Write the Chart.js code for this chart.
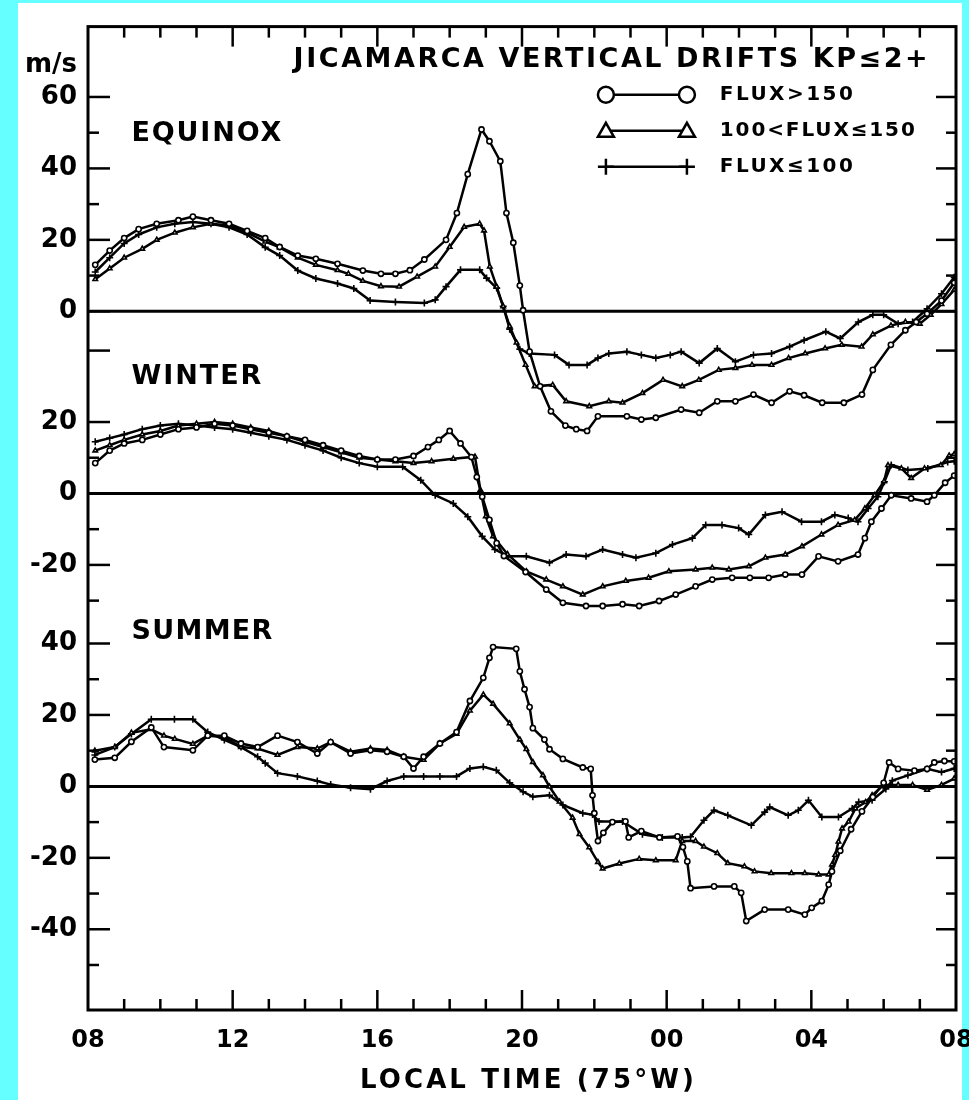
<!DOCTYPE html>
<html>
<head>
<meta charset="utf-8">
<title>Jicamarca vertical drifts</title>
<script src="https://cdn.jsdelivr.net/npm/chart.js@4.4.1/dist/chart.umd.min.js"></script>
<style>
    html, body { margin: 0; padding: 0; background: #66ffff; }
    #sheet { position: absolute; left: 18px; top: 3px; width: 944px; height: 1097px; background: #fff; }
    #wrap { position: absolute; left: 0; top: 0; width: 969px; height: 1100px; }
</style>
</head>
<body>
<div id="sheet"></div>
<div id="wrap"><canvas id="drifts"></canvas></div>
<script>
// Сдвиг нуля каждой панели на общей оси Y (м/с)
const panelOffsets = [0, -51, -133];
const panelNames = ['EQUINOX', 'WINTER', 'SUMMER'];
const seriesNames = ['FLUX>150', '100<FLUX≤150', 'FLUX≤100'];
const markerStyles = ['circle', 'triangle', 'cross'];

// Подписи осей
const xTickVals = [8, 12, 16, 20, 24, 28, 32];
const xTickLabels = ['08', '12', '16', '20', '00', '04', '08'];
const yTickVals = [69, 60, 40, 20, 0, -31, -51, -71, -93, -113, -133, -153, -173];
const yTickLabels = ['m/s', '60', '40', '20', '0', '20', '0', '-20', '40', '20', '0', '-20', '-40'];
const yMajorVals = [60, 40, 20, 0, -11, -31, -51, -71, -93, -113, -133, -153, -173];
const yMinorVals = [50, 30, 10, -41, -61, -81, -103, -123, -143, -163, -183];

// Равноденствие
const eqHighHours = [8.2, 8.6, 9.0, 9.4, 9.9, 10.5, 10.9, 11.4, 11.9, 12.4, 12.9, 13.3, 13.8, 14.3, 14.9, 15.6, 16.1, 16.5, 16.9, 17.3, 17.9, 18.2, 18.5, 18.88, 19.1, 19.4, 19.57, 19.76, 19.94, 20.03, 20.21, 20.5, 20.8, 21.2, 21.5, 21.8, 22.1, 22.9, 23.3, 23.7, 24.4, 24.9, 25.4, 25.9, 26.4, 26.9, 27.4, 27.8, 28.3, 28.9, 29.4, 29.7, 30.2, 30.6, 30.9, 31.2, 31.6, 31.95];
const eqHighDrift = [13, 17, 20.5, 23, 24.5, 25.5, 26.5, 25.5, 24.5, 22.5, 20.5, 18, 15.6, 14.7, 13.3, 11.4, 10.5, 10.5, 11.5, 14.5, 20, 27.5, 38.4, 50.9, 47.6, 42, 27.5, 19.2, 7.2, 0.3, -11.3, -21, -28, -32, -33, -33.5, -29.4, -29.4, -30.3, -29.8, -27.5, -28.4, -25.2, -25.2, -23.3, -25.6, -22.4, -23.5, -25.6, -25.6, -23.3, -16.4, -9.4, -5.3, -3, -0.7, 3, 8];
const eqMidHours = [8.2, 8.6, 9.0, 9.5, 9.9, 10.4, 10.9, 11.4, 11.9, 12.4, 12.9, 13.3, 13.8, 14.3, 14.9, 15.2, 15.6, 16.1, 16.6, 17.1, 17.6, 18.0, 18.4, 18.83, 18.95, 19.11, 19.3, 19.48, 19.66, 19.85, 20.1, 20.35, 20.85, 21.22, 21.86, 22.4, 22.78, 23.33, 23.9, 24.43, 24.89, 25.44, 25.9, 26.36, 26.9, 27.37, 27.83, 28.38, 28.84, 29.39, 29.7, 30.2, 30.6, 31.0, 31.3, 31.6, 31.95];
const eqMidDrift = [9, 12, 15, 17.5, 20, 22, 23.5, 24.5, 24, 22, 19.5, 17.9, 15, 13, 11.5, 10.5, 8.5, 7, 6.9, 9.7, 12.5, 18, 23.6, 24.5, 22.6, 12.5, 6.9, 1.4, -4.2, -8.8, -15, -21, -20.6, -25.2, -26.6, -25.2, -25.6, -22.9, -19.2, -21, -19.2, -16.4, -15.9, -15, -15, -13.1, -11.8, -10.4, -9.4, -9.9, -6.5, -4, -3, -3.5, -1, 2, 6];
const eqLowHours = [8.2, 8.6, 9.0, 9.4, 9.9, 10.4, 10.9, 11.4, 11.9, 12.4, 12.9, 13.3, 13.8, 14.3, 14.9, 15.35, 15.8, 16.5, 17.3, 17.6, 17.9, 18.3, 18.83, 19.02, 19.3, 19.48, 19.66, 19.94, 20.2, 20.9, 21.3, 21.8, 22.1, 22.4, 22.9, 23.3, 23.7, 24.1, 24.4, 24.9, 25.4, 25.9, 26.4, 26.9, 27.4, 27.8, 28.4, 28.8, 29.3, 29.7, 30.0, 30.4, 30.8, 31.2, 31.6, 31.95];
const eqLowDrift = [11, 15, 19, 21.5, 23.5, 24.5, 25, 24.5, 23.5, 21.5, 17.9, 15.6, 11.4, 9.2, 7.8, 6.4, 3, 2.6, 2.3, 3.2, 6.9, 11.6, 11.6, 9.3, 6.5, 1.4, -5, -10.6, -11.8, -12.2, -15, -15, -13.1, -11.8, -11.3, -12.2, -13.1, -12.2, -11.3, -14.5, -10.4, -14.1, -12.2, -11.8, -9.9, -8.1, -5.7, -7.6, -3, -1, -1, -3.5, -3, 0.7, 4.9, 9.5];

// Зима
const wiHighHours = [8.2, 8.6, 9.0, 9.5, 10.0, 10.5, 11.0, 11.5, 12.0, 12.5, 13.0, 13.5, 14.0, 14.5, 15.0, 15.5, 16.0, 16.5, 17.0, 17.4, 17.7, 18.0, 18.3, 18.6, 18.75, 18.9, 19.1, 19.3, 19.5, 20.1, 20.67, 21.13, 21.77, 22.23, 22.78, 23.24, 23.79, 24.25, 24.8, 25.26, 25.81, 26.3, 26.82, 27.28, 27.74, 28.2, 28.74, 29.29, 29.48, 29.66, 29.94, 30.21, 30.76, 31.2, 31.4, 31.7, 31.95];
const wiHighDrift = [8.5, 12, 14, 15, 16.5, 18, 18.5, 19.5, 19, 18, 17, 16, 15, 13.5, 12, 10.5, 9.5, 9.5, 10.5, 13, 15, 17.5, 14, 10.2, 4.6, -0.9, -7.4, -13.9, -17.5, -22, -26.9, -30.6, -31.5, -31.5, -31, -31.5, -30.1, -28.3, -26, -24.1, -23.6, -23.6, -23.6, -22.7, -22.7, -17.6, -19, -17.1, -12.5, -7.9, -4.2, -0.5, -1.4, -2.3, -0.5, 3, 5];
const wiMidHours = [8.2, 8.6, 9.0, 9.5, 10.0, 10.5, 11.0, 11.5, 12.0, 12.5, 13.0, 13.5, 14.0, 14.5, 15.0, 15.5, 16.0, 16.5, 17.0, 17.5, 18.1, 18.7, 18.85, 19.0, 19.2, 19.6, 20.12, 20.67, 21.13, 21.68, 22.23, 22.87, 23.5, 24.06, 24.8, 25.26, 25.72, 26.27, 26.73, 27.28, 27.74, 28.28, 28.74, 29.2, 29.48, 29.75, 30.01, 30.12, 30.49, 30.76, 31.13, 31.58, 31.81, 31.95];
const wiMidDrift = [12, 13.5, 15, 16.5, 17.5, 19, 19.5, 20, 19.5, 18.5, 17.5, 16, 14.5, 13, 11.5, 10, 9.5, 9, 8.5, 9, 9.7, 10.3, 1, -6.4, -12, -17, -21.8, -24.1, -26, -28.3, -26, -24.5, -23.6, -21.8, -21.3, -20.8, -21.3, -20.4, -18, -17.1, -14.8, -11.5, -8.8, -7.4, -4.2, -0.5, 3.4, 7.9, 7, 4.3, 7, 7.9, 10.6, 11];
const wiLowHours = [8.2, 8.6, 9.0, 9.5, 10.0, 10.5, 11.0, 11.5, 12.0, 12.5, 13.0, 13.5, 14.0, 14.5, 15.0, 15.5, 16.0, 16.7, 17.2, 17.6, 18.1, 18.5, 18.9, 19.25, 19.62, 20.12, 20.76, 21.22, 21.77, 22.23, 22.78, 23.15, 23.7, 24.16, 24.71, 25.08, 25.53, 25.99, 26.27, 26.73, 27.19, 27.73, 28.28, 28.65, 29.02, 29.29, 29.57, 29.84, 30.02, 30.21, 30.67, 31.22, 31.77, 31.95];
const wiLowDrift = [14.5, 15.5, 16.5, 18, 19, 19.5, 19, 18.5, 18, 17, 16, 15, 13.5, 12, 10, 8.5, 7.5, 7.5, 3.7, -0.5, -2.8, -6.5, -12, -15.7, -17.6, -17.6, -19.4, -17.1, -17.6, -15.7, -17.1, -18, -16.7, -14.3, -12.5, -8.8, -8.8, -9.7, -11.5, -6, -5.1, -7.9, -7.9, -6, -6.9, -7.9, -4.2, -0.9, 3.3, 8, 6.6, 7, 8.8, 9];

// Лето
const suHighHours = [8.19, 8.74, 9.2, 9.75, 10.1, 10.9, 11.31, 11.77, 12.23, 12.69, 13.24, 13.79, 14.34, 14.71, 15.26, 15.81, 16.27, 16.73, 17.0, 17.28, 17.73, 18.19, 18.56, 18.93, 19.1, 19.2, 19.84, 19.94, 20.07, 20.21, 20.3, 20.62, 20.76, 21.13, 21.68, 21.9, 21.95, 22.0, 22.1, 22.25, 22.5, 22.86, 22.95, 23.3, 23.8, 24.3, 24.45, 24.57, 24.66, 25.31, 25.87, 26.06, 26.2, 26.71, 27.36, 27.82, 28.01, 28.29, 28.48, 28.57, 28.8, 29.1, 29.4, 29.7, 30.0, 30.15, 30.4, 30.85, 31.2, 31.4, 31.68, 31.95];
const suHighDrift = [7.5, 8, 12.5, 16.5, 11, 10.1, 14.2, 14.2, 12, 11, 14.2, 12.4, 9.2, 12.4, 9.2, 10.1, 9.7, 8.3, 5, 8.3, 12, 15.2, 23.9, 30.4, 36, 39, 38.5, 32.2, 27.2, 22.2, 16.3, 13.1, 10.4, 7.7, 5.3, 4.9, -2.5, -7.5, -15.3, -13, -10, -9.8, -14.3, -12.5, -14.3, -14, -17, -21, -28.5, -28, -28, -29.8, -37.7, -34.5, -34.5, -35.9, -34, -32.1, -27.5, -23.8, -18, -12, -7, -3, 1, 6.7, 4.9, 4.4, 4.9, 6.7, 7.1, 7];
const suMidHours = [8.19, 8.74, 9.2, 9.75, 10.1, 10.4, 10.9, 11.31, 11.77, 12.23, 12.69, 13.24, 13.79, 14.34, 14.71, 15.26, 15.81, 16.27, 16.73, 17.28, 17.73, 18.19, 18.56, 18.93, 19.2, 19.66, 19.94, 20.12, 20.3, 20.58, 20.76, 21.04, 21.4, 21.59, 21.86, 22.1, 22.23, 22.69, 23.24, 23.7, 24.25, 24.43, 24.8, 25.03, 25.4, 25.69, 26.15, 26.43, 26.89, 27.45, 27.82, 28.2, 28.48, 28.57, 28.66, 28.75, 28.85, 29.03, 29.22, 29.5, 29.68, 30.0, 30.4, 30.8, 31.2, 31.6, 31.95];
const suMidDrift = [10, 11, 15, 16, 14.2, 13.3, 11.9, 14.2, 13.8, 11, 10.6, 8.8, 11, 10.6, 12.4, 9.7, 10.6, 10.2, 8.3, 7.4, 12, 14.7, 21.2, 25.7, 23.1, 17.6, 13.1, 10.4, 6.8, 3.1, -0.1, -4.3, -8.8, -13.4, -17.1, -21.2, -23, -21.6, -20.3, -20.7, -20.7, -15.3, -15.3, -16.9, -18.7, -21.5, -22.4, -23.8, -24.3, -24.3, -24.3, -24.7, -24.7, -21.9, -19.2, -15.5, -11.8, -9.9, -6.2, -4.4, -2.5, 0.4, 0.4, 0.4, -1, 0.4, 2.2];
const suLowHours = [8.19, 8.74, 9.2, 9.75, 10.39, 10.9, 11.31, 11.77, 12.23, 12.69, 12.9, 13.24, 13.79, 14.34, 14.71, 15.26, 15.81, 16.27, 16.73, 17.28, 17.73, 18.19, 18.56, 18.93, 19.29, 19.66, 20.03, 20.3, 20.76, 21.13, 21.68, 21.95, 22.13, 22.78, 23.33, 23.88, 24.43, 24.66, 25.03, 25.31, 25.69, 26.34, 26.71, 26.85, 27.36, 27.64, 27.92, 28.29, 28.75, 29.13, 29.31, 29.68, 30.06, 30.24, 30.67, 31.2, 31.6, 31.95];
const suLowDrift = [8.8, 11, 14.7, 18.8, 18.8, 18.8, 15.2, 13, 11, 8.3, 6.5, 3.7, 2.8, 1.5, 0.5, -0.4, -0.8, 1.5, 2.8, 2.8, 2.8, 2.8, 5, 5.5, 4.5, 1, -1.5, -2.9, -2.5, -5.2, -7.5, -7.9, -9.8, -9.8, -13.4, -14.3, -14.3, -14.1, -9.5, -6.7, -8.1, -10.9, -7.2, -5.8, -8.1, -6.7, -3.9, -8.6, -8.6, -6.2, -4.4, -3.9, -0.7, 1.6, 3.1, 4.9, 4, 5];

const seasons = [
    [[eqHighHours, eqHighDrift], [eqMidHours, eqMidDrift], [eqLowHours, eqLowDrift]],
    [[wiHighHours, wiHighDrift], [wiMidHours, wiMidDrift], [wiLowHours, wiLowDrift]],
    [[suHighHours, suHighDrift], [suMidHours, suMidDrift], [suLowHours, suLowDrift]]
];

const FONT = '"DejaVu Sans", "Liberation Sans", sans-serif';

function buildDatasets() {
    const datasets = [];
    seasons.forEach((series, p) => {
        series.forEach(([hours, drift], s) => {
            datasets.push({
                label: panelNames[p] + ' ' + seriesNames[s],
                data: hours.map((h, i) => ({ x: h, y: drift[i] + panelOffsets[p] })),
                borderColor: '#000',
                borderWidth: 2.5,
                backgroundColor: '#fff',
                pointStyle: markerStyles[s],
                pointRadius: s === 2 ? 3.5 : 2.6,
                pointBorderWidth: 1.6,
                pointBorderColor: '#000',
                pointBackgroundColor: '#fff',
                tension: 0
            });
        });
    });
    return datasets;
}

// Текст с растянутым межбуквенным интервалом под нужную ширину
function drawSpaced(ctx, text, x, y, size, width, align) {
    ctx.font = `bold ${size}px ${FONT}`;
    ctx.letterSpacing = '0px';
    const w = ctx.measureText(text).width;
    const gap = Math.max(0, (width - w) / (text.length - 1));
    ctx.letterSpacing = gap + 'px';
    ctx.textAlign = 'left';
    ctx.textBaseline = 'middle';
    ctx.fillText(text, align === 'center' ? x - width / 2 : x, y);
    ctx.letterSpacing = '0px';
}

function drawMarker(ctx, style, x, y, r) {
    ctx.beginPath();
    if (style === 'circle') {
        ctx.arc(x, y, r, 0, Math.PI * 2);
        ctx.fill();
        ctx.stroke();
    } else if (style === 'triangle') {
        ctx.moveTo(x, y - r);
        ctx.lineTo(x + r, y + r * 0.75);
        ctx.lineTo(x - r, y + r * 0.75);
        ctx.closePath();
        ctx.fill();
        ctx.stroke();
    } else {
        ctx.moveTo(x, y - r);
        ctx.lineTo(x, y + r);
        ctx.moveTo(x - r, y);
        ctx.lineTo(x + r, y);
        ctx.stroke();
    }
}

const frameAndText = {
    id: 'frameAndText',
    beforeDatasetsDraw(chart) {
        // Нулевые линии трёх панелей
        const { ctx, chartArea: a, scales: { y } } = chart;
        ctx.save();
        ctx.strokeStyle = '#000';
        ctx.lineWidth = 3;
        panelOffsets.forEach(off => {
            const py = y.getPixelForValue(off);
            ctx.beginPath();
            ctx.moveTo(a.left, py);
            ctx.lineTo(a.right, py);
            ctx.stroke();
        });
        ctx.restore();
    },
    afterDraw(chart) {
        const { ctx, chartArea: a, scales: { x, y } } = chart;
        ctx.save();
        ctx.strokeStyle = '#000';
        ctx.fillStyle = '#000';

        // Рамка
        ctx.lineWidth = 3;
        ctx.strokeRect(a.left, a.top, a.right - a.left, a.bottom - a.top);

        // Засечки внутрь рамки
        const tick = (x1, y1, x2, y2) => {
            ctx.beginPath();
            ctx.moveTo(x1, y1);
            ctx.lineTo(x2, y2);
            ctx.stroke();
        };
        ctx.lineWidth = 2.5;
        yMajorVals.forEach(v => {
            const py = y.getPixelForValue(v);
            tick(a.left, py, a.left + 22, py);
            tick(a.right, py, a.right - 20, py);
        });
        yMinorVals.forEach(v => {
            const py = y.getPixelForValue(v);
            tick(a.left, py, a.left + 11, py);
            tick(a.right, py, a.right - 10, py);
        });
        for (let h = 9; h < 32; h++) {
            const px = x.getPixelForValue(h);
            const len = h % 4 === 0 ? 20 : 11;
            tick(px, a.bottom, px, a.bottom - len);
            tick(px, a.top, px, a.top + len);
        }

        // Заголовок
        drawSpaced(ctx, 'JICAMARCA VERTICAL DRIFTS KP≤2+', x.getPixelForValue(22.45), y.getPixelForValue(70.3), 27, 634, 'center');

        // Легенда
        const rowY = y.getPixelForValue(60.6);
        const leftX = x.getPixelForValue(22.32);
        const rightX = x.getPixelForValue(24.56);
        const textX = x.getPixelForValue(25.47);
        const textWidths = [133, 195, 133];
        seriesNames.forEach((name, i) => {
            const py = rowY + i * 36;
            ctx.fillStyle = '#fff';
            ctx.lineWidth = 2.5;
            tick(leftX, py, rightX, py);
            drawMarker(ctx, markerStyles[i], leftX, py, 8);
            drawMarker(ctx, markerStyles[i], rightX, py, 8);
            ctx.fillStyle = '#000';
            drawSpaced(ctx, name, textX, py, 20, textWidths[i], 'left');
        });

        // Названия сезонов
        const labelVals = [49.7, 32.5, 43.3];
        const labelWidths = [150, 130, 141];
        panelNames.forEach((name, p) => {
            drawSpaced(ctx, name, x.getPixelForValue(9.2), y.getPixelForValue(panelOffsets[p] + labelVals[p]), 27, labelWidths[p], 'left');
        });

        // Подпись оси X
        drawSpaced(ctx, 'LOCAL TIME (75°W)', (a.left + a.right) / 2 + 5, x.bottom - 19, 26, 334, 'center');
        ctx.restore();
    }
};

document.addEventListener('DOMContentLoaded', function() {
    const ctx = document.getElementById('drifts').getContext('2d');
    new Chart(ctx, {
        type: 'line',
        data: { datasets: buildDatasets() },
        options: {
            responsive: true,
            maintainAspectRatio: false,
            animation: false,
            layout: { padding: { top: 19, right: 13, left: 0, bottom: 0 } },
            plugins: {
                legend: { display: false },
                tooltip: { enabled: false }
            },
            scales: {
                x: {
                    type: 'linear',
                    min: 8,
                    max: 32,
                    grid: { display: false, drawTicks: false },
                    border: { display: false },
                    afterBuildTicks: scale => { scale.ticks = xTickVals.map(v => ({ value: v })); },
                    afterFit: scale => {
                        scale.height = 90;
                        scale.paddingLeft = 0;
                        scale.paddingRight = 0;
                    },
                    ticks: {
                        color: '#000',
                        font: { family: FONT, size: 24, weight: 'bold' },
                        padding: 16,
                        maxRotation: 0,
                        autoSkip: false,
                        callback: (v, i) => xTickLabels[i]
                    }
                },
                y: {
                    min: -195.6,
                    max: 79.7,
                    grid: { display: false, drawTicks: false },
                    border: { display: false },
                    afterBuildTicks: scale => { scale.ticks = yTickVals.map(v => ({ value: v })); },
                    afterFit: scale => { scale.width = 88; },
                    ticks: {
                        color: '#000',
                        font: { family: FONT, size: 26, weight: 'bold' },
                        padding: 11,
                        autoSkip: false,
                        callback: (v, i) => yTickLabels[i]
                    }
                }
            }
        },
        plugins: [frameAndText]
    });
});
</script>
</body>
</html>
